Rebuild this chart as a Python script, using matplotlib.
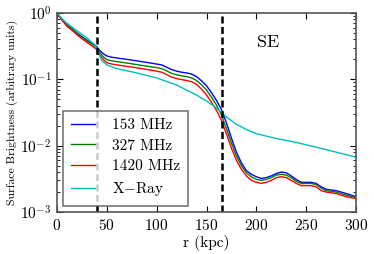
import matplotlib
matplotlib.use("Agg")
import matplotlib.pyplot as plt

plt.rcParams['font.family'] = 'serif'
plt.rcParams['font.serif'] = ['cmr10', 'DejaVu Serif']
plt.rcParams['mathtext.fontset'] = 'cm'
plt.rcParams['axes.unicode_minus'] = False
plt.rcParams['axes.formatter.use_mathtext'] = True

r_radio = [0, 5, 10, 15, 20, 25, 30, 35, 40, 43, 47, 50, 55, 60, 70, 80, 90, 100,
           105, 110, 115, 120, 125, 130, 135, 140, 145, 150, 155, 160, 165, 170,
           175, 180, 185, 190, 195, 200, 205, 210, 215, 220, 225, 230, 235, 240,
           245, 250, 255, 260, 265, 270, 280, 290, 300]
blue = [1.0, 0.80, 0.66, 0.58, 0.50, 0.44, 0.39, 0.35, 0.31, 0.27, 0.24, 0.225, 0.215,
        0.21, 0.20, 0.19, 0.18, 0.17, 0.165, 0.152, 0.140, 0.133, 0.128, 0.125, 0.120,
        0.110, 0.095, 0.080, 0.063, 0.048, 0.035, 0.022, 0.013, 0.0080, 0.0055, 0.0042,
        0.0037, 0.0034, 0.0032, 0.0033, 0.0035, 0.0038, 0.0040, 0.0039, 0.0035, 0.0031,
        0.0028, 0.0028, 0.0028, 0.0027, 0.0024, 0.0022, 0.0021, 0.0019, 0.0017]
green = [1.0, 0.79, 0.65, 0.57, 0.49, 0.43, 0.38, 0.34, 0.30, 0.25, 0.215, 0.198, 0.19,
         0.185, 0.176, 0.167, 0.158, 0.150, 0.145, 0.134, 0.123, 0.117, 0.113, 0.110,
         0.105, 0.096, 0.083, 0.069, 0.054, 0.041, 0.029, 0.018, 0.011, 0.0070, 0.0050,
         0.0039, 0.0034, 0.0031, 0.0030, 0.0031, 0.0033, 0.0036, 0.0037, 0.0036, 0.0033,
         0.0029, 0.0027, 0.0027, 0.0027, 0.0026, 0.0023, 0.0021, 0.0020, 0.0018, 0.00165]
red = [1.0, 0.78, 0.63, 0.55, 0.47, 0.41, 0.36, 0.32, 0.28, 0.23, 0.195, 0.178, 0.17,
       0.165, 0.157, 0.149, 0.141, 0.133, 0.128, 0.118, 0.108, 0.103, 0.099, 0.096,
       0.092, 0.084, 0.071, 0.058, 0.045, 0.034, 0.024, 0.015, 0.0092, 0.0060, 0.0044,
       0.0035, 0.0030, 0.0028, 0.0027, 0.0028, 0.0030, 0.0033, 0.0034, 0.0033, 0.0030,
       0.0027, 0.0025, 0.0025, 0.0025, 0.0024, 0.0021, 0.0020, 0.0019, 0.0017, 0.0016]

r_xray = [0, 5, 10, 20, 30, 38, 42, 45, 50, 60, 80, 100, 120, 140, 150, 160, 170, 180,
          190, 200, 220, 240, 260, 280, 300]
cyan = [1.0, 0.82, 0.70, 0.54, 0.42, 0.33, 0.24, 0.19, 0.165, 0.145, 0.125, 0.105,
        0.082, 0.058, 0.047, 0.037, 0.027, 0.021, 0.0175, 0.0152, 0.0128, 0.0112,
        0.0095, 0.0080, 0.0067]

labels = ['153 MHz', '327 MHz', '1420 MHz', 'X$-$Ray']
vlines = [40, 166]

fig = plt.figure(figsize=(3.74, 2.54), dpi=100)
ax = fig.add_axes([57/374, 1 - 212/254, (356-57)/374, (212-13)/254])

ax.plot(r_radio, blue, color='b', lw=1, label=labels[0])
ax.plot(r_radio, green, color='g', lw=1, label=labels[1])
ax.plot(r_radio, red, color='r', lw=1, label=labels[2])
ax.plot(r_xray, cyan, color='c', lw=1, label=labels[3])
for v in vlines:
    ax.axvline(v, color='k', ls='--', lw=1.8, dashes=(2.8, 1.4))

ax.set_yscale('log')
ax.set_xlim(0, 300)
ax.set_ylim(1e-3, 1)
ax.set_xticks([0, 50, 100, 150, 200, 250, 300])
ax.tick_params(which='both', direction='in', top=True, right=True, labelsize=11)
ax.tick_params(which='major', length=4, pad=4)
ax.tick_params(which='minor', length=2)
for s in ax.spines.values():
    s.set_color('#555555')
    s.set_linewidth(1.2)
ax.set_xlabel('r (kpc)', fontsize=11, labelpad=2)
ax.set_ylabel('Surface Brightness (arbitrary units)', fontsize=8.5, labelpad=2)
ax.text(212, 0.36, 'SE', fontsize=13, ha='center', va='center')
leg = ax.legend(loc='lower left', fontsize=11, fancybox=False, handlelength=1.6,
                handletextpad=1.1, borderaxespad=0.4, labelspacing=0.45,
                borderpad=0.5)
leg.get_frame().set_edgecolor('#555555')
leg.get_frame().set_linewidth(1.2)

fig.savefig('out.png', dpi=100)
